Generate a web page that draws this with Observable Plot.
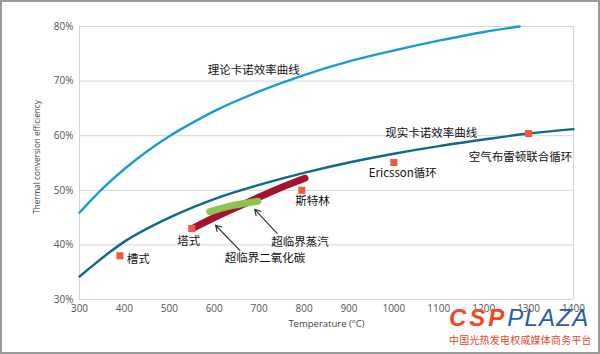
<!DOCTYPE html>
<html><head><meta charset="utf-8">
<script src="https://cdn.jsdelivr.net/npm/d3@7"></script>
<script src="https://cdn.jsdelivr.net/npm/@observablehq/plot@0.6"></script>
<style>
body{margin:0;background:#fff;}
#wrap{position:relative;width:600px;height:354px;overflow:hidden;background:#fff;}
#frame{position:absolute;left:0;top:0;width:600px;height:354px;box-sizing:border-box;border:2px solid #9a9a9a;pointer-events:none;}
#wm{position:absolute;left:449px;top:306px;width:146px;}
#wm .logo{font-family:"Liberation Sans",Arial,sans-serif;font-style:italic;font-size:24px;line-height:24px;white-space:nowrap;}
#wm .csp{color:#ee4a1e;font-weight:900;letter-spacing:3px;}
#wm .plaza{color:#1f5fae;font-weight:400;letter-spacing:1.2px;}
#wm .sub{font-family:"Noto Sans CJK SC",sans-serif;font-size:10px;color:#e84a25;letter-spacing:0.2px;white-space:nowrap;line-height:14px;margin-top:3px;}
</style></head>
<body>
<div id="wrap"><div id="chart"></div>
<div id="wm"><div class="logo"><span class="csp">CSP</span><span class="plaza">PLAZA</span></div><div class="sub">中国光热发电权威媒体商务平台</div></div>
<div id="frame"></div></div>
<script>
// Theoretical Carnot efficiency curve
const theoryTemps = [300,350,400,450,500,550,600,700,800,900,1000,1100,1200,1280];
const theoryEff   = [45.9,50.2,53.9,57.1,59.9,62.3,64.5,68.1,71.1,73.6,75.6,77.4,79.0,80.0];
// Real (practical) Carnot efficiency curve
const realTemps = [300,400,500,600,700,800,900,1000,1100,1200,1300,1400];
const realEff   = [34.2,40.6,45.0,48.4,51.0,53.2,55.1,56.7,58.1,59.3,60.4,61.2];
// Supercritical CO2 band
const co2Temps = [556,620,680,740,802];
const co2Eff   = [43.2,45.8,48.0,50.2,52.2];
// Supercritical steam band
const steamTemps = [590,640,697];
const steamEff   = [46.1,47.2,48.0];
// Technology points
const pointNames = ["槽式","塔式","斯特林","Ericsson循环","空气布雷顿联合循环"];
const pointTemps = [390,550,795,1000,1300];
const pointEff   = [38.0,43.0,50.0,55.1,60.4];
// Labels
const labelTexts = ["理论卡诺效率曲线","现实卡诺效率曲线","空气布雷顿联合循环","Ericsson循环","斯特林","塔式","槽式","超临界蒸汽","超临界二氧化碳"];
const labelTemps = [688,1083,1282,1020,819,543,431,791,713];
const labelEff   = [71.9,60.4,56.0,53.1,48.0,40.6,37.3,40.4,37.5];
// Arrows (tail -> head)
const arrowTail = [[740,42.1],[657,39.0]];
const arrowHead = [[690,46.5],[603,43.6]];
// Axis ticks
const xTicks = [300,400,500,600,700,800,900,1000,1100,1200,1300,1400];
const yTicks = [30,40,50,60,70,80];

const toRows = (xs, ys) => xs.map((x,i)=>({x, y: ys[i]}));
const theory = toRows(theoryTemps, theoryEff);
const real = toRows(realTemps, realEff);
const co2 = toRows(co2Temps, co2Eff);
const steam = toRows(steamTemps, steamEff);
const points = pointNames.map((n,i)=>({name:n, x: pointTemps[i], y: pointEff[i]}));
const labels = labelTexts.map((t,i)=>({text:t, x: labelTemps[i], y: labelEff[i]}));
const arrows = arrowTail.map((t,i)=>({x1:t[0], y1:t[1], x2:arrowHead[i][0], y2:arrowHead[i][1]}));

const cjk = '"Noto Sans CJK SC", "Noto Sans", sans-serif';
const chart = Plot.plot({
  width: 600, height: 354,
  marginLeft: 79, marginRight: 27, marginTop: 26, marginBottom: 55,
  style: {fontFamily: '"Open Sans", "Noto Sans", sans-serif', background: "#fff", color: "#555"},
  x: {domain: [300,1400], ticks: xTicks},
  y: {domain: [30,80], ticks: yTicks},
  marks: [
    Plot.gridY(yTicks, {stroke: "#d6d6d6", strokeOpacity: 1, strokeWidth: 1}),
    Plot.ruleX([300, 1400], {stroke: "#d6d6d6", strokeWidth: 1}),
    Plot.axisY(yTicks, {tickSize: 0, tickPadding: 6, tickFormat: d => d + "%", fontSize: 10, label: null, fill: "#555"}),
    Plot.axisX(xTicks, {tickSize: 0, tickPadding: 5, tickFormat: d => String(d), fontSize: 10, label: null, fill: "#555"}),
    Plot.text(["Thermal conversion efficiency"], {frameAnchor: "left", textAnchor: "middle", rotate: -90, dx: -42, dy: -6, fontSize: 8.2, fill: "#444"}),
    Plot.text(["Temperature (°C)"], {frameAnchor: "bottom", textAnchor: "middle", dy: 24, lineAnchor: "middle", fontSize: 9.5, fill: "#444"}),
    Plot.line(theory, {x: "x", y: "y", stroke: "#1b9bd6", strokeWidth: 2.4, curve: "monotone-x"}),
    Plot.line(real, {x: "x", y: "y", stroke: "#0f6a8a", strokeWidth: 2.4, curve: "monotone-x"}),
    Plot.line(co2, {x: "x", y: "y", stroke: "#a3122f", strokeWidth: 7, strokeLinecap: "round", curve: "natural"}),
    Plot.line(steam, {x: "x", y: "y", stroke: "#8dc451", strokeWidth: 7, strokeLinecap: "round", curve: "natural"}),
    Plot.dot(points, {x: "x", y: "y", symbol: "square", r: 4, fill: "#f05a3a", stroke: null}),
    Plot.arrow(arrows, {x1: "x1", y1: "y1", x2: "x2", y2: "y2", stroke: "#333", strokeWidth: 1.2, headLength: 8}),
    Plot.text(labels, {x: "x", y: "y", text: "text", fontSize: 11.5, fill: "#111", fontFamily: cjk})
  ]
});
document.getElementById("chart").appendChild(chart);
</script>
</body></html>
